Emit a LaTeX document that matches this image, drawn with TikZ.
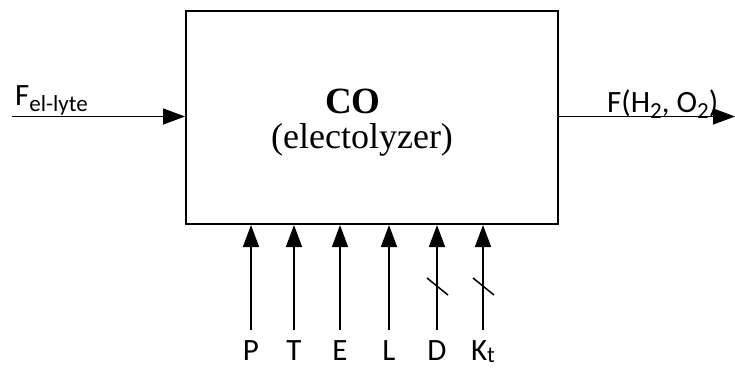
\documentclass[tikz,border=0pt]{standalone}
\usepackage{fontspec}
\setmainfont{Liberation Serif}
\newfontfamily\lblfont{Carlito}
\usetikzlibrary{arrows.meta}
\newcommand{\lowtext}[2][6pt]{\raisebox{-#1}{\fontsize{23}{23}\selectfont #2}}
\tikzset{
  flow/.style={line width=1.5pt,-{Triangle[length=22pt,width=16pt]}},
  lbl/.style={font=\lblfont\fontsize{31}{31}\selectfont,inner sep=0pt},
}
\begin{document}
\begin{tikzpicture}[x=1pt,y=-1pt]
  \useasboundingbox (0,0) rectangle (735,367);
  \node[draw,line width=2pt,inner sep=0pt,minimum width=372pt,minimum height=213pt,anchor=north west] (box) at (185,10) {};
  \node[anchor=base,inner sep=0pt,font=\fontsize{37}{37}\selectfont\bfseries] (co) at (353,113) {CO};
  \node[anchor=base,inner sep=0pt,font=\fontsize{36}{36}\selectfont] (kind) at (362,148) {(electolyzer)};
  % side streams
  \coordinate (in) at (12,116.5);
  \coordinate (out) at (735,116.5);
  \draw[flow] (in) -- (in -| box.west);
  \draw[flow] (box.east |- out) -- (out);
  \node[lbl,anchor=base west] (fin) at (15,105) {F\lowtext{el-lyte}};
  \node[lbl,anchor=base west] (fout) at (607,112) {F(H\lowtext{2}, O\lowtext{2})};
  % inputs from below
  \foreach \x/\lab/\n in {251/P/p, 294/T/t, 340/E/e, 389/L/l, 437/D/d, 483/{K\lowtext[2pt]{t}}/k}{
    \node[lbl,anchor=base] (\n) at (\x,360) {\lab};
    \coordinate (\n tail) at (\x,330);
    \draw[flow] (\n tail) -- (\n tail |- box.south);
  }
  \foreach \n in {d,k}
    \draw[line width=1.5pt] ([shift={(-10,-52)}]\n tail) -- ([shift={(11,-35)}]\n tail);
\end{tikzpicture}
\end{document}
